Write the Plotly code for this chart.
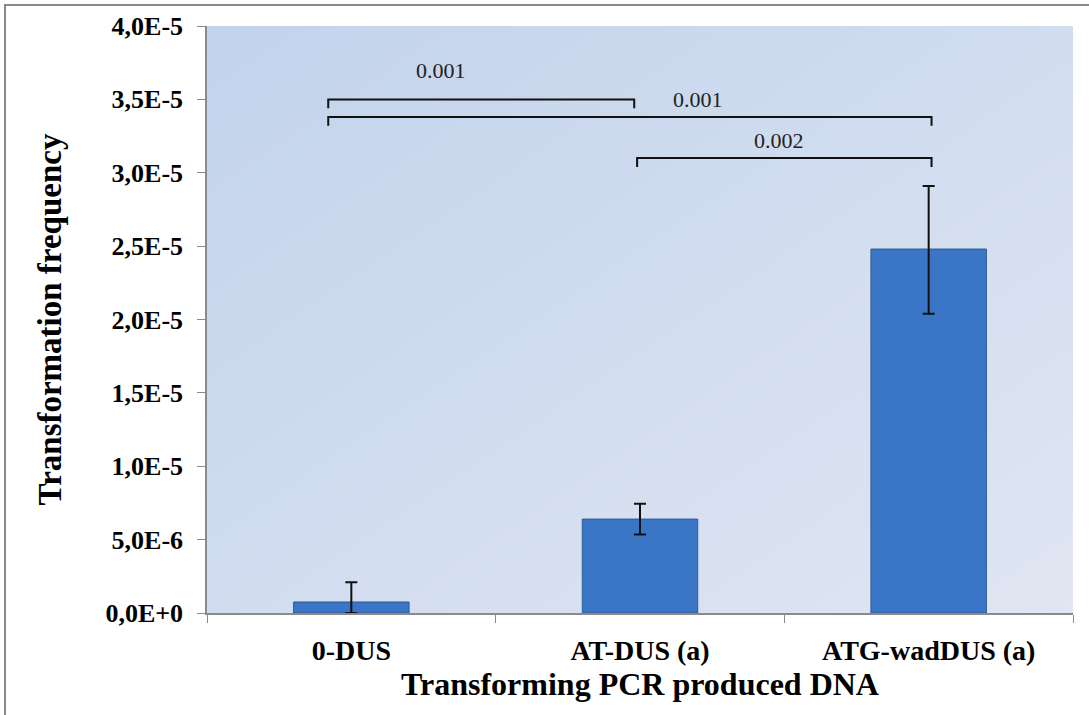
import plotly.graph_objects as go

categories = ["0-DUS", "AT-DUS (a)", "ATG-wadDUS (a)"]
values = [7.5e-7, 6.4e-6, 2.48e-5]
err_plus = [1.35e-6, 1.05e-6, 4.3e-6]
err_minus = [7.5e-7, 1.05e-6, 4.4e-6]
tick_vals = [0, 5e-6, 1e-5, 1.5e-5, 2e-5, 2.5e-5, 3e-5, 3.5e-5, 4e-5]
tick_text = ["0,0E+0", "5,0E-6", "1,0E-5", "1,5E-5", "2,0E-5", "2,5E-5", "3,0E-5", "3,5E-5", "4,0E-5"]
# comparison brackets: (from category index, to category index, y level, p-value label)
brackets = [(0, 1, 3.5e-5, "0.001"), (0, 2, 3.38e-5, "0.001"), (1, 2, 3.1e-5, "0.002")]
bracket_end_offsets = [(-0.08, -0.02), (-0.08, 0.01), (-0.01, 0.01)]
bracket_label_pos = [(0.31, 3.7e-5), (1.2, 3.5e-5), (1.48, 3.22e-5)]

FONT = "Liberation Serif"

svg = ("data:image/svg+xml;utf8,<svg xmlns='http://www.w3.org/2000/svg' width='100' height='100' preserveAspectRatio='none'>"
       "<defs><linearGradient id='g' x1='0' y1='0' x2='1' y2='1'>"
       "<stop offset='0' stop-color='%23c2d3ec'/><stop offset='1' stop-color='%23e0e6f2'/>"
       "</linearGradient></defs><rect width='100' height='100' fill='url(%23g)'/></svg>")

fig = go.Figure()
fig.add_trace(go.Bar(
    x=categories, y=values, width=0.40,
    marker=dict(color="#3b76c6", line=dict(color="#2c5b99", width=1)),
    error_y=dict(type="data", array=err_plus, arrayminus=err_minus, symmetric=False,
                 color="#111111", thickness=2, width=6),
    showlegend=False,
))

tick_drop = 0.06e-5
for i, (a, b, y, lab) in enumerate(brackets):
    oa, ob = bracket_end_offsets[i]
    xa = a + oa
    xb = b + ob
    fig.add_shape(type="path",
                  path=f"M {xa} {y - tick_drop} L {xa} {y} L {xb} {y} L {xb} {y - tick_drop}",
                  xref="x", yref="y", line=dict(color="#111111", width=2))
    lx, ly = bracket_label_pos[i]
    fig.add_annotation(x=lx, y=ly, xref="x", yref="y", text=lab, showarrow=False,
                       font=dict(family=FONT, size=22, color="#222222"))

fig.add_layout_image(dict(source=svg, xref="paper", yref="paper", x=0, y=1, sizex=1, sizey=1,
                          sizing="stretch", layer="below"))

# outer border
fig.add_shape(type="rect", xref="paper", yref="paper",
              x0=-202/866, x1=1.2, y0=-0.3, y1=1 + 21/587,
              line=dict(color="#888888", width=2), fillcolor="rgba(0,0,0,0)", layer="below")

fig.update_layout(
    width=1089, height=715,
    margin=dict(l=207, r=16, t=26, b=102),
    paper_bgcolor="white", plot_bgcolor="#cfdcef",
    font=dict(family=FONT, color="black"),
    xaxis=dict(
        showline=True, linecolor="#8a8a8a", linewidth=1.5,
        ticks="outside", tickson="boundaries", ticklen=8, tickcolor="#8a8a8a",
        ticklabelstandoff=12,
        tickfont=dict(family=FONT, size=28, color="black", weight="bold"),
        title=dict(text="<b>Transforming PCR produced DNA</b>", font=dict(family=FONT, size=32), standoff=2),
        range=[-0.5, 2.5],
    ),
    yaxis=dict(
        range=[0, 4e-5], tickvals=tick_vals, ticktext=tick_text,
        showline=True, linecolor="#8a8a8a", linewidth=1.5,
        ticks="outside", ticklen=8, tickcolor="#8a8a8a", showgrid=False, zeroline=False,
        ticklabelstandoff=9,
        tickfont=dict(family=FONT, size=26, color="black", weight="bold"),
        title=dict(text="<b>Transformation frequency</b>", font=dict(family=FONT, size=33), standoff=34),
    ),
)

fig.write_html("out.html", config={"displayModeBar": False},
               post_script="document.body.style.margin='0';")
